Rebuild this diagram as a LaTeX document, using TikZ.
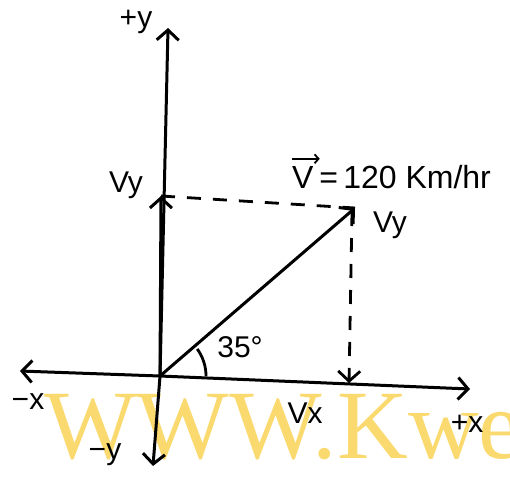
\documentclass[tikz,border=0pt]{standalone}
\usepackage{fontspec}
\setmainfont{Liberation Sans}
\newfontfamily\wmfont{Liberation Serif}
\usetikzlibrary{arrows.meta}
\definecolor{wmyellow}{RGB}{250,218,110}
\begin{document}
\begin{tikzpicture}[x=1pt,y=-1pt,
  axis/.style={line width=3pt,line cap=round,-{Straight Barb[length=10pt,width=22pt,line width=3pt]}},
  dashline/.style={line width=2.8pt,dash pattern=on 14pt off 12pt},
  lbl/.style={font=\fontsize{30}{32}\selectfont,inner sep=0pt}]
\useasboundingbox (0,0) rectangle (510,493);
\fill[white] (0,0) rectangle (510,493);
% watermark
\begin{scope}
\clip (0,0) rectangle (510,493);
\node[anchor=base west,inner sep=0pt,text=wmyellow,font=\wmfont\fontsize{98}{100}\selectfont] (wm) at (44,458) {WWW.Kwe};
\end{scope}
% points
\coordinate (O) at (160,376);
\coordinate (L) at (20,371);
\coordinate (R) at (470,389);
\coordinate (T) at (168,28);
\coordinate (B) at (153,466);
\coordinate (VY) at (161,196);
\coordinate (P) at (355,208);
\coordinate (VX) at (349,383);
\coordinate (Ptop) at (352,212);
% axes
\draw[axis] (O) -- (L);
\draw[axis] (O) -- (R);
\draw[axis] (O) -- (T);
\draw[axis] (O) -- (B);
% components
\draw[axis] (O) -- (VY);
\draw[axis] (O) -- (P);
\draw[dashline] (VY) -- (P);
\draw[dashline,-{Straight Barb[length=10pt,width=22pt,line width=2.8pt]}] (Ptop) -- (VX);
% angle arc
\draw[line width=2.8pt] (O) ++(46,0) arc[start angle=0,end angle=-36,radius=46];
% labels
\node[lbl] (py) at (136,22) {+y};
\node[lbl] (vyl) at (126,185) {Vy};
\node[lbl] (vyr) at (390,225) {Vy};
\node[lbl,anchor=west,font=\fontsize{32}{34}\selectfont] (vv) at (292,177) {V};
\node[lbl,anchor=west,font=\fontsize{32}{34}\selectfont] (vval) at (vv.east) {\,=\,120 Km/hr};
\draw[line width=2pt,-{Straight Barb[length=4pt,width=9pt,line width=1.8pt]}] ([yshift=7pt]vv.north west) -- ([yshift=7pt,xshift=6pt]vv.north east);
\node[lbl] (ang) at (240,347) {35°};
\node[lbl] (mx) at (28,402) {−x};
\node[lbl] (vxl) at (305,413) {Vx};
\node[lbl] (pxl) at (467,424) {+x};
\node[lbl] (myl) at (105,455) {−y};
\end{tikzpicture}
\end{document}
